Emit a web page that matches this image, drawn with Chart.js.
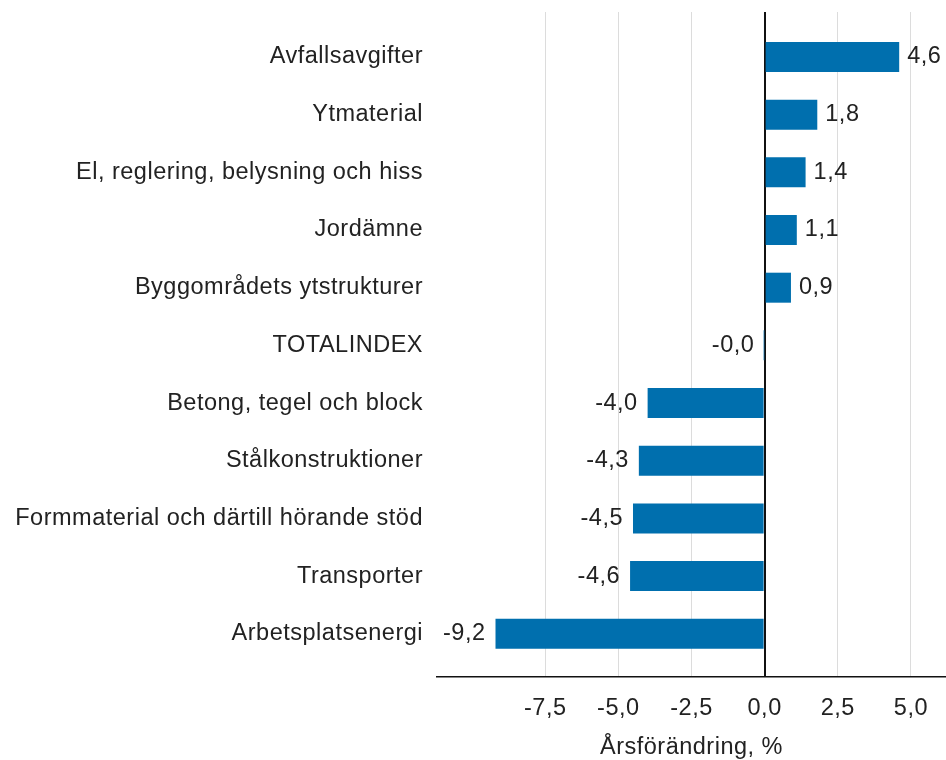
<!DOCTYPE html>
<html>
<head>
<meta charset="utf-8">
<script src="https://cdn.jsdelivr.net/npm/chart.js@4"></script>
<style>
html,body{margin:0;padding:0;background:#fff;}
#wrap{width:946px;height:760px;}
</style>
</head>
<body>
<div id="wrap"><canvas id="c" width="946" height="760"></canvas></div>
<script>
const categories = [
  "Avfallsavgifter",
  "Ytmaterial",
  "El, reglering, belysning och hiss",
  "Jordämne",
  "Byggområdets ytstrukturer",
  "TOTALINDEX",
  "Betong, tegel och block",
  "Stålkonstruktioner",
  "Formmaterial och därtill hörande stöd",
  "Transporter",
  "Arbetsplatsenergi"
];
const values = [4.6, 1.8, 1.4, 1.1, 0.9, -0.01, -4.0, -4.3, -4.5, -4.6, -9.2];
const xTicks = [-7.5, -5.0, -2.5, 0.0, 2.5, 5.0];
const axisTitle = "Årsförändring, %";

const FONT = "'Liberation Sans', Arial, sans-serif";
const FS = 23.5;
const TXT = '#222';
const fmt = v => v.toFixed(1).replace('.', ',');

const spacingPlugin = {
  id: 'spacing',
  beforeLayout(chart) { chart.ctx.letterSpacing = '0.5px'; },
  beforeDraw(chart) { chart.ctx.letterSpacing = '0.5px'; }
};

const labelPlugin = {
  id: 'valueLabels',
  afterDatasetsDraw(chart) {
    const ctx = chart.ctx;
    const meta = chart.getDatasetMeta(0);
    ctx.save();
    ctx.font = FS + 'px ' + FONT;
    ctx.fillStyle = TXT;
    ctx.textBaseline = 'middle';
    meta.data.forEach((bar, i) => {
      const v = values[i];
      if (v >= 0) {
        ctx.textAlign = 'left';
        ctx.fillText(fmt(v), bar.x + 8, bar.y);
      } else {
        ctx.textAlign = 'right';
        ctx.fillText(fmt(v), bar.x - 10, bar.y);
      }
    });
    ctx.restore();
  }
};

new Chart(document.getElementById('c'), {
  type: 'bar',
  data: {
    datasets: [{
      data: values.map((v, i) => ({ x: v, y: i })),
      backgroundColor: '#006fae',
      borderWidth: 0,
      barPercentage: 0.52,
      categoryPercentage: 1.0
    }]
  },
  options: {
    indexAxis: 'y',
    responsive: false,
    animation: false,
    layout: { padding: { top: 0, right: 0, left: 0, bottom: 0 } },
    plugins: { legend: { display: false }, tooltip: { enabled: false } },
    scales: {
      x: {
        type: 'linear',
        min: -11.2,
        max: 6.2,
        afterBuildTicks: s => { s.ticks = xTicks.map(v => ({ value: v })); },
        afterFit: s => { s.height = 83; },
        grid: {
          drawTicks: false,
          color: c => (c.tick && c.tick.value === 0) ? '#111' : '#dcdcdc',
          lineWidth: c => (c.tick && c.tick.value === 0) ? 2 : 1
        },
        border: { display: true, color: '#111', width: 1.5 },
        ticks: {
          padding: 17,
          color: TXT,
          font: { family: FONT, size: FS },
          callback: v => fmt(v)
        },
        title: {
          display: true,
          text: axisTitle,
          color: TXT,
          font: { family: FONT, size: FS },
          padding: { top: 6, bottom: -2 }
        }
      },
      y: {
        type: 'linear',
        reverse: true,
        offset: false,
        min: -0.78,
        max: 10.75,
        afterBuildTicks: s => { s.ticks = categories.map((c, i) => ({ value: i })); },
        afterFit: s => { s.width = 437; s.paddingTop = 12; s.paddingBottom = 0; },
        grid: { display: false, drawTicks: false },
        border: { display: false },
        ticks: {
          padding: 14,
          color: TXT,
          font: { family: FONT, size: FS },
          callback: v => categories[v]
        }
      }
    }
  },
  plugins: [spacingPlugin, labelPlugin]
});
</script>
</body>
</html>
